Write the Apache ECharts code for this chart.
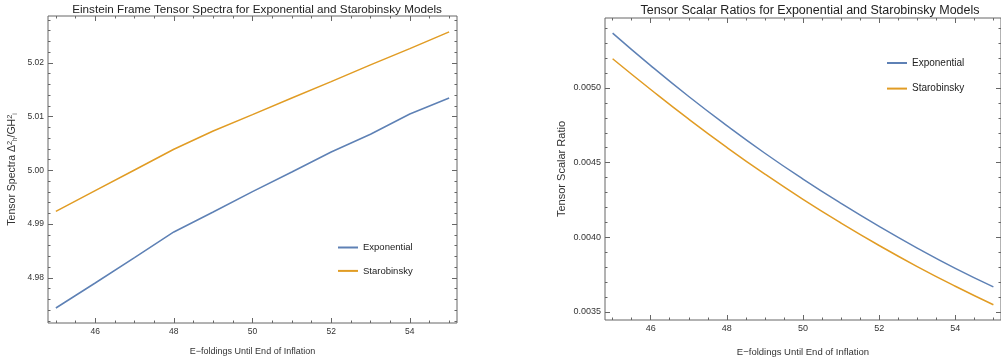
<!DOCTYPE html>
<html>
<head>
    <meta charset="utf-8"/>
    <title>Tensor spectra and tensor scalar ratios</title>
    <script src="https://cdn.jsdelivr.net/npm/echarts@6/dist/echarts.min.js"></script>
    <style>
        html, body { margin: 0; padding: 0; background: #fff; }
        #main { width: 1001px; height: 362px; }
    </style>
</head>
<body>
<div id="main"></div>
<script type="text/javascript">
    // e-foldings until end of inflation
    var efolds = [45, 46, 47, 48, 49, 50, 51, 52, 53, 54, 55];
    // left panel: tensor spectra
    var spectraExp = [4.97439, 4.97904, 4.98375, 4.98853, 4.99225, 4.99603, 4.99969, 5.00341, 5.00670, 5.01048, 5.01346];
    var spectraStaro = [4.99237, 4.99622, 5.00006, 5.00391, 5.00732, 5.01036, 5.01346, 5.01650, 5.01960, 5.02264, 5.02574];
    // right panel: tensor scalar ratio
    var ratioExp = [0.005368, 0.005150, 0.004943, 0.004748, 0.004563, 0.004390, 0.004227, 0.004073, 0.003928, 0.003792, 0.003668];
    var ratioStaro = [0.005196, 0.004990, 0.004791, 0.004602, 0.004423, 0.004254, 0.004095, 0.003945, 0.003804, 0.003672, 0.003548];
    // tick labels
    var xTicks = [46, 48, 50, 52, 54];
    var spectraTicks = [4.98, 4.99, 5.00, 5.01, 5.02];
    var ratioTicks = [0.0035, 0.0040, 0.0045, 0.0050];

    var names = ['Exponential', 'Starobinsky'];
    var colors = ['#5e81b5', '#e19c24'];
    var font = 'Liberation Sans';
    var frameColor = '#666';
    var labelColor = '#333';

    // minor tick positions
    function steps(from, to, step) {
        var out = [];
        for (var v = from; v <= to + step / 10; v += step) {
            out.push(Math.round(v * 1e6) / 1e6);
        }
        return out;
    }
    var xMinor = steps(45, 55, 0.5);
    var spectraMinor = steps(4.972, 5.028, 0.002);
    var ratioMinor = steps(0.0035, 0.0054, 0.0001);

    function pairs(xs, ys) {
        return xs.map(function (x, i) { return [x, ys[i]]; });
    }

    // four axes per direction: labelled major ticks, minor ticks, and the same on the opposite frame side
    function frameAxes(dim, g, min, max, majors, minors, fmt, labelSize, name, nameSize, gap) {
        var sides = dim === 'x' ? ['bottom', 'top'] : ['left', 'right'];
        var list = [];
        sides.forEach(function (side, s) {
            [true, false].forEach(function (major) {
                var ax = {
                    gridIndex: g, type: 'value', position: side, min: min, max: max,
                    axisLine: {show: false}, splitLine: {show: false},
                    axisTick: {
                        show: true, inside: true, length: major ? 5 : 2.5,
                        customValues: major ? majors : minors,
                        lineStyle: {color: frameColor, width: 1}
                    },
                    axisLabel: {show: false}
                };
                if (s === 0 && major) {
                    ax.axisLabel = {
                        show: true, customValues: majors, formatter: fmt, margin: 4,
                        fontSize: labelSize, color: labelColor, fontFamily: font
                    };
                    ax.name = name;
                    ax.nameLocation = 'middle';
                    ax.nameGap = gap;
                    ax.nameTextStyle = {
                        fontSize: nameSize, color: labelColor, fontFamily: font,
                        rich: {
                            sup: {fontSize: nameSize * 0.7, verticalAlign: 'top', padding: [0, 0, 5, 0], fontFamily: font, color: labelColor},
                            sub: {fontSize: nameSize * 0.6, verticalAlign: 'bottom', padding: [4, 0, 0, 0], fontFamily: font, color: labelColor}
                        }
                    };
                }
                list.push(ax);
            });
        });
        return list;
    }

    var xName = 'E\u2212foldings Until End of Inflation';
    var xFmt = function (v) { return String(v); };
    var xAxes = frameAxes('x', 0, 44.8, 55.2, xTicks, xMinor, xFmt, 8.5, xName, 9, 24)
        .concat(frameAxes('x', 1, 44.8, 55.2, xTicks, xMinor, xFmt, 9, xName, 9.5, 27));
    var yAxes = frameAxes('y', 0, 4.9716, 5.0287, spectraTicks, spectraMinor, function (v) { return v.toFixed(2); }, 8.5,
        'Tensor Spectra \u0394{sup|2}{sub|h}/GH{sup|2}{sub|i}', 10.5, 30)
        .concat(frameAxes('y', 1, 0.003446, 0.005469, ratioTicks, ratioMinor, function (v) { return v.toFixed(4); }, 9,
            'Tensor Scalar Ratio', 11, 38));

    function lineSeries(name, data, xi, yi, color, smooth) {
        return {
            name: name, type: 'line', xAxisIndex: xi, yAxisIndex: yi,
            data: data, showSymbol: false, smooth: smooth,
            lineStyle: {color: color, width: 1.5}, itemStyle: {color: color},
            animation: false
        };
    }

    function titleStyle(size) {
        return {fontSize: size, fontWeight: 'normal', color: '#222', fontFamily: font};
    }
    function legendText(size) {
        return {fontSize: size, color: '#222', fontFamily: font, lineHeight: 12};
    }

    var myChart = echarts.init(document.getElementById('main'));
    var option = {
        animation: false,
        title: [
            {text: 'Einstein Frame Tensor Spectra for Exponential and Starobinsky Models', left: 252, top: -1, textAlign: 'center', textStyle: titleStyle(11.7)},
            {text: 'Tensor Scalar Ratios for Exponential and Starobinsky Models', left: 805, top: -1, textAlign: 'center', textStyle: titleStyle(12.5)}
        ],
        legend: [
            {data: names, orient: 'vertical', left: 338, top: 241.5, padding: 0, itemWidth: 20, itemHeight: 2, itemGap: 11.4, icon: 'rect', textStyle: legendText(9.5), selectedMode: false},
            {data: names, orient: 'vertical', left: 887, top: 57, padding: 0, itemWidth: 20, itemHeight: 2, itemGap: 13.6, icon: 'rect', textStyle: legendText(10), selectedMode: false}
        ],
        grid: [
            {left: 48, right: 544, top: 16, bottom: 39, show: true, borderColor: frameColor, borderWidth: 1, backgroundColor: 'transparent'},
            {left: 605, right: -5, top: 18, bottom: 42, show: true, borderColor: frameColor, borderWidth: 1, backgroundColor: 'transparent'}
        ],
        xAxis: xAxes,
        yAxis: yAxes,
        series: [
            lineSeries(names[0], pairs(efolds, spectraExp), 0, 0, colors[0], false),
            lineSeries(names[1], pairs(efolds, spectraStaro), 0, 0, colors[1], false),
            lineSeries(names[0], pairs(efolds, ratioExp), 4, 4, colors[0], true),
            lineSeries(names[1], pairs(efolds, ratioStaro), 4, 4, colors[1], true)
        ]
    };
    myChart.setOption(option);
</script>
</body>
</html>
